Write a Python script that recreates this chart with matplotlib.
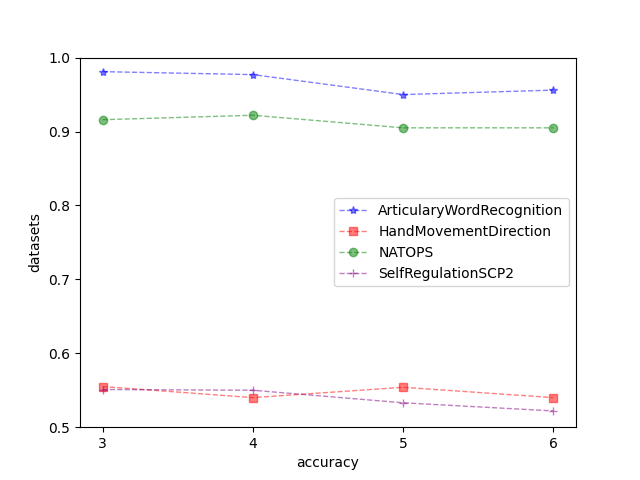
import matplotlib
matplotlib.use('Agg')
import matplotlib.pyplot as plt

x = [3, 4, 5, 6]
awr = [0.981, 0.977, 0.950, 0.956]
hmd = [0.555, 0.540, 0.554, 0.540]
natops = [0.916, 0.922, 0.905, 0.905]
scp2 = [0.551, 0.550, 0.533, 0.522]

fig, ax = plt.subplots(figsize=(6.4, 4.8), dpi=100)
ax.plot(x, awr, 'b*--', alpha=0.5, linewidth=1, label='ArticularyWordRecognition')
ax.plot(x, hmd, 'rs--', alpha=0.5, linewidth=1, label='HandMovementDirection')
ax.plot(x, natops, 'go--', alpha=0.5, linewidth=1, label='NATOPS')
ax.plot(x, scp2, '+--', color='purple', alpha=0.5, linewidth=1, label='SelfRegulationSCP2')

ax.set_ylim(0.5, 1.0)
ax.set_xticks(x)
ax.set_xlabel('accuracy')
ax.set_ylabel('datasets')
ax.legend(loc='center right')

fig.savefig('out.png')
